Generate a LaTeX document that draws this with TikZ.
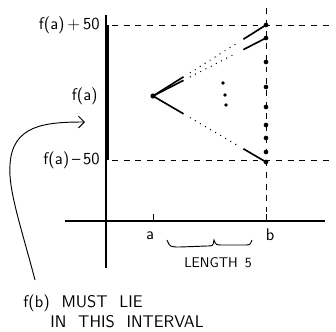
\documentclass[tikz,border=0pt]{standalone}
\usepackage{tikz}
\usetikzlibrary{arrows.meta, positioning, calc}

\begin{document}
\begin{tikzpicture}[x=0.03cm, y=-0.03cm, thick, font=\sffamily]
        \useasboundingbox (0,0) rectangle (336,331);
        \tikzset{
            axis/.style={line width=1.5pt},
            guide/.style={dash pattern=on 5pt off 5pt},
            dotline/.style={line width=1.2pt, line cap=round, dash pattern=on 0pt off 5pt},
        }
        % axes
        \draw[axis] (106,15) -- (106,268);
        \draw[axis] (65,221) -- (325,221);
        \draw (153,214) -- (153,221);
        \draw (266,214) -- (266,221);

        % interval for f(b)
        \draw[line width=4pt] (107,25) -- (107,160);
        \draw[guide] (112,25) -- (330,25);
        \draw[guide] (112,160) -- (330,160);
        \draw[guide] (266,8) -- (266,212);

        \node[left, font=\sffamily\Large] (top) at (104,25) {f(a)\,+\,50};
        \node[left, font=\sffamily\Large] (mid) at (102,96) {f(a)};
        \node[left, font=\sffamily\Large] (bot) at (104,160) {f(a)\,--\,50};

        % secants from f(a)
        \coordinate (fa) at (153,96);
        \coordinate (b1) at (266,25);
        \coordinate (b2) at (266,38);
        \coordinate (b3) at (266,162);
        \fill (fa) circle (2.2pt);
        \foreach \p in {b1, b2, b3} {
            \draw[line width=1.4pt] (fa) -- ($(fa)!0.27!(\p)$);
            \draw[dotline] ($(fa)!0.33!(\p)$) -- ($(fa)!0.74!(\p)$);
            \draw[line width=1.4pt] ($(fa)!0.8!(\p)$) -- (\p);
        }
        \foreach \y in {25,38,62,87,107,125,138,152,162}
            \fill (266,\y) circle (2pt);
        \foreach \x/\y in {223/83, 225/95, 226/105}
            \fill (\x,\y) circle (1.6pt);

        \node[font=\sffamily\Large] (a) at (150,236) {a};
        \node[font=\sffamily\Large] (b) at (270,235) {b};
        \draw (167,240) .. controls (170,247) .. (180,247) -- (207,246)
            .. controls (213,246) .. (214,240) .. controls (216,245) .. (222,245)
            -- (245,245) .. controls (250,245) .. (252,240);
        \node[font=\sffamily\large] (len) at (218,263) {LENGTH\hspace{0.5em}5};

        \node[anchor=base west, font=\sffamily\Large] (must) at (19,307) {f(b)\hspace{0.7em}MUST\hspace{0.7em}LIE};
        \node[anchor=base west, font=\sffamily\Large] (ivl) at (46,327) {IN\hspace{0.7em}THIS\hspace{0.7em}INTERVAL};
        \draw[-{Straight Barb[length=5pt]}] (35,280) .. controls (22,230) and (8,190) .. (10,165)
            .. controls (12,125) and (45,122) .. (85,122);
    \end{tikzpicture}
\end{document}
